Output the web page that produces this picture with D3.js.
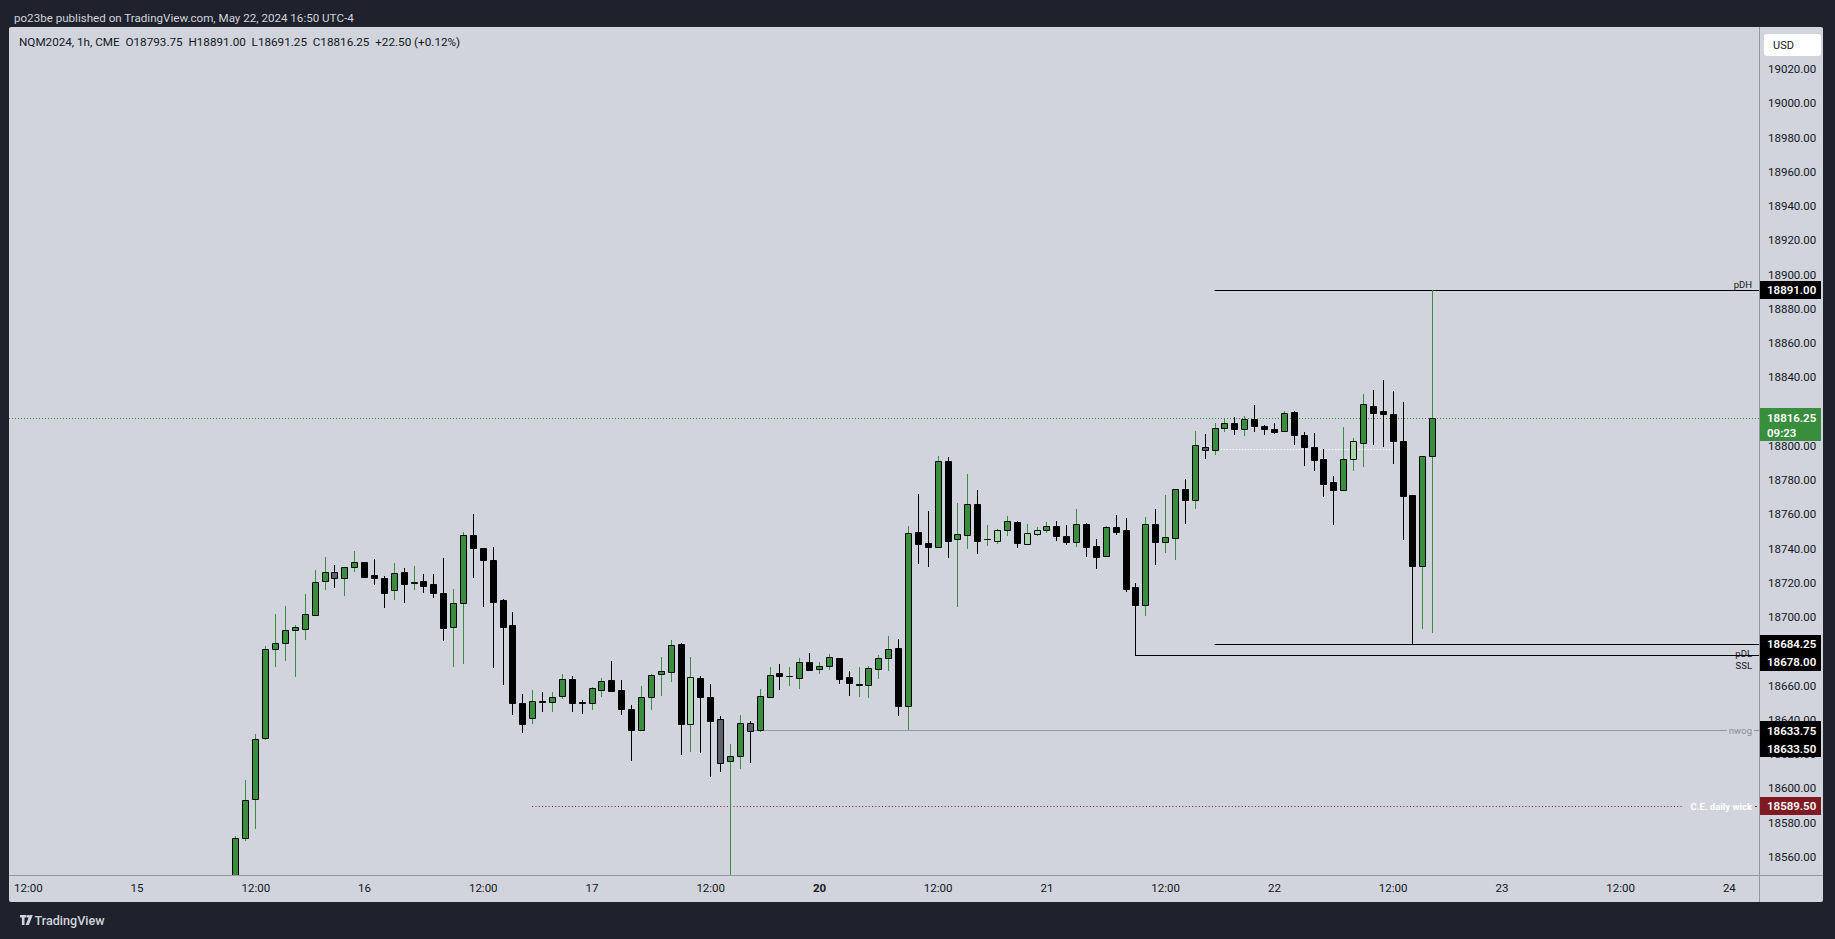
<!DOCTYPE html>
<html><head><meta charset="utf-8">
<script src="https://cdn.jsdelivr.net/npm/d3@7"></script>
<style>html,body{margin:0;padding:0;background:#1f222d;overflow:hidden}text{font-family:Roboto,"Liberation Sans",sans-serif}</style>
</head><body><svg id="c" width="1835" height="939"></svg>
<script>
// ---------- data ----------
const firstBar = 21; // bar index of first visible candle (index 0 = May 14 12:00)
const open = [18530,18571,18593.5,18629.5,18681,18684.5,18692.25,18692.75,18701.25,18720.75,
18726.5,18722.5,18729,18732,18724.25,18722.5,18715.5,18726,18720,18720.75,
18719,18713.75,18694.25,18708.25,18747.75,18740,18733,18710,18695,18650,
18641.25,18650.75,18650.5,18654,18663.5,18650.25,18650,18657.5,18663,18657.25,
18646.5,18634.25,18653.5,18666.5,18668,18684,18637.75,18664.25,18653.25,18640.5,
18616,18619,18638,18633.75,18653.5,18667,18665.25,18664.25,18673.5,18669.5,
18671.25,18676,18664.75,18660.5,18660.5,18669.75,18676.25,18681.75,18648.25,18749.5,
18743,18741,18791,18745.5,18748,18766,18745.25,18744.5,18751,18755.25,
18742.75,18748.5,18750.5,18753,18747.5,18744,18754,18741.25,18735.75,18752.5,
18750.5,18717.75,18707,18754,18744,18746.25,18775,18768.5,18799.5,18797.75,
18810.5,18813,18810,18815.5,18811.25,18809.5,18808.75,18819.5,18806.25,18799,
18792,18778.75,18774.25,18792.5,18801.75,18823,18820,18818.25,18803,18771,
18729.5,18793.75];
const high = [18572,18604.75,18631.5,18683,18701.75,18706.5,18695.25,18713.5,18727.5,18735,
18730.25,18729,18738.5,18732.25,18733.75,18724,18731.5,18728.5,18729.75,18725,
18725,18734.5,18716.25,18749.5,18760,18740.25,18741,18710.5,18703,18655,
18657.25,18656.25,18656.25,18666.75,18665.5,18651.5,18659.25,18664.5,18674.25,18663.25,
18648.5,18659.75,18666.75,18676.5,18686.5,18684.5,18676.5,18665.5,18660.75,18642,
18626,18642.75,18639.25,18658,18670.75,18672.5,18670.75,18676,18679,18673.75,
18678.5,18676.25,18668.5,18670.5,18671.5,18677.75,18689,18687,18753,18771.75,
18762,18794,18793.25,18766.5,18783.5,18774,18753.75,18751.5,18759,18756,
18754.25,18752.5,18755.5,18756,18753.75,18763,18754.75,18745.5,18753,18759.5,
18757.75,18719.75,18758.25,18763,18771.25,18775,18780.5,18808.5,18806.75,18813.25,
18815.5,18816.75,18817.5,18823.75,18812,18813.25,18820.25,18820.25,18807.75,18807.5,
18798,18782.25,18811,18804.25,18830.25,18832.5,18838.5,18832,18825.5,18771,
18794,18891];
const low = [18520,18569.75,18577,18629,18671.5,18675,18665.75,18687.25,18701.25,18716.5,
18717.75,18712.75,18726.75,18723.25,18719,18706,18710.5,18709,18716.5,18714.5,
18711.75,18686.25,18671.5,18673,18723.5,18706.5,18670.5,18661,18643.5,18633,
18638.25,18645.25,18645.25,18652.5,18645,18644,18646.25,18654,18656.75,18643.25,
18616.5,18634.25,18646.25,18654.5,18662.5,18620,18621.75,18621,18607,18610,
18540,18612,18615,18633.5,18653,18658,18660,18658.75,18668.75,18667.5,
18669.75,18661.5,18654.5,18654,18653.5,18664.5,18668.75,18643,18634.5,18731.75,
18729.5,18741,18735.25,18706.5,18740.25,18737.5,18742.25,18743.25,18748,18741,
18742.75,18748,18749.75,18745,18742.75,18741.5,18735.75,18728.75,18735.75,18748.5,
18715,18678,18701.25,18731,18738,18734,18755,18763.75,18792.75,18795.25,
18808.75,18807,18806.25,18808.5,18807,18807.5,18808.75,18801.25,18788.75,18785.75,
18770.75,18754.5,18774.25,18786,18788.25,18801.25,18800,18790,18745.75,18684.25,
18693.75,18691.25];
const close = [18570.75,18593,18629,18681,18684.5,18692.25,18694,18702,18720.25,18726.5,
18722.5,18729,18732,18723.5,18723,18714.25,18725.5,18719.5,18720.25,18718.25,
18714.25,18693.75,18708,18747.75,18740,18733,18709,18694.25,18650,18637.75,
18650.75,18650.5,18653.5,18663.5,18650,18649.5,18658.25,18662.5,18656.75,18646.25,
18634,18653.5,18666,18668.25,18683.5,18637.75,18664.75,18653.5,18639.5,18614.5,
18619,18638,18633.5,18653.75,18666,18665.75,18665.5,18673.5,18669.25,18671.25,
18676.5,18664,18661.25,18660.75,18670,18675.75,18681,18648.25,18749,18742.75,
18741,18791,18744.5,18748.25,18766,18744.5,18745.5,18751,18755.75,18743.25,
18748.75,18750.5,18753,18747.5,18744,18754,18741,18735.25,18752.25,18749.75,
18716.25,18707,18754,18744,18746.5,18775,18768.5,18800.25,18797.75,18810.25,
18813,18810,18815.5,18811.75,18809.5,18808.25,18819,18806,18799.5,18791.75,
18777.75,18774.25,18792,18802.5,18824.25,18819.25,18818.75,18803,18770.75,18729.5,
18793.75,18816.25];
// u = up, d = down, l = light-green highlight, g = grey highlight
const barState = ["u","u","u","u","u","u","u","u","u","u",
"g","u","u","d","d","d","u","d","u","d",
"d","d","u","u","d","d","d","d","d","d",
"u","d","u","u","d","d","u","u","d","d",
"d","u","u","u","u","d","l","d","d","g",
"u","u","g","u","u","d","u","u","d","u",
"u","d","d","u","u","u","u","d","u","d",
"d","u","d","u","u","d","u","l","u","d",
"l","l","u","d","d","u","d","d","u","d",
"d","d","u","d","u","u","d","u","g","u",
"u","d","u","d","d","d","u","d","d","d",
"d","d","u","l","u","d","d","d","d","d",
"u","u"];
const timeTickIndex = [0,11,23,34,46,57,69,80,92,103,115,126,138,149,161,172];
const timeTickLabel = ["12:00","15","12:00","16","12:00","17","12:00","20","12:00","21","12:00","22","12:00","23","12:00","24"];
const boldTimeLabels = ["20"];
const priceTicks = d3.range(18560, 19021, 20);
const levelNames = ["pDH","pDL","SSL"];
const levelPrices = [18891, 18684.25, 18678];
const levelStartBar = [120,120,112];
const nwogPrice = 18633.75, nwogPrice2 = 18633.5, nwogStartBar = 73;
const cePrice = 18589.5, ceStartBar = 51;
const refLevelPrice = 18798, refLevelBars = [120,138];
const lastPrice = 18816.25, countdown = "09:23";
const headerText = "po23be published on TradingView.com, May 22, 2024 16:50 UTC-4";
const legendText = "NQM2024, 1h, CME  O18793.75  H18891.00  L18691.25  C18816.25  +22.50 (+0.12%)";

// ---------- layout ----------
const W=1835,H=939, L=9, T=27, R=1823, B=902, AX=1759, AY=875;
const svg = d3.select("#c");
const x = d3.scaleLinear().domain([0,175]).range([27.8, 27.8+175*9.89]);
const y = d3.scaleLinear().domain([18549.3, 19044.5]).range([AY, T]);
const GREEN="#388e3c", LIGHT="#a5d6a7", GREY="#5d606b", TXT="#131722";

svg.append("rect").attr("width",W).attr("height",H).attr("fill","#1f222d");
svg.append("rect").attr("x",L).attr("y",T).attr("width",R-L).attr("height",B-T).attr("rx",2).attr("fill","#d1d4dc");

svg.append("defs").append("clipPath").attr("id","pane").append("rect")
  .attr("x",L).attr("y",T).attr("width",AX-L).attr("height",AY-T);
const pane = svg.append("g").attr("clip-path","url(#pane)");

// header / legend
svg.append("text").attr("x",14).attr("y",22).attr("fill","#d1d4dc").attr("font-size",11.6).text(headerText);
svg.append("text").attr("x",19).attr("y",46).attr("fill",TXT).attr("font-size",11.7).style("white-space","pre").text(legendText);

// current price dotted line
pane.append("line").attr("x1",L).attr("x2",AX).attr("y1",Math.round(y(lastPrice))+0.5).attr("y2",Math.round(y(lastPrice))+0.5)
  .attr("stroke",GREEN).attr("stroke-dasharray","1,2");
// white dotted
pane.append("line").attr("x1",x(refLevelBars[0])).attr("x2",x(refLevelBars[1])).attr("y1",Math.round(y(refLevelPrice))+0.5).attr("y2",Math.round(y(refLevelPrice))+0.5)
  .attr("stroke","#ffffff").attr("stroke-dasharray","1.5,1.5");

// nwog
const ny = Math.round(y(nwogPrice))+0.5;
pane.append("line").attr("x1",x(nwogStartBar)).attr("x2",1727).attr("y1",ny).attr("y2",ny).attr("stroke","#9598a1").attr("stroke-width",1.2);
pane.append("line").attr("x1",1754).attr("x2",AX).attr("y1",ny).attr("y2",ny).attr("stroke","#9598a1").attr("stroke-width",1.2);
pane.append("text").attr("x",1752).attr("y",ny+3.5).attr("text-anchor","end").attr("font-size",9.5).attr("fill","#8a8d96").text("nwog");
// C.E.
const cy = Math.round(y(cePrice))+0.5;
pane.append("line").attr("x1",x(ceStartBar)).attr("x2",1683).attr("y1",cy).attr("y2",cy).attr("stroke","#801922").attr("stroke-dasharray","1,2.3");
pane.append("line").attr("x1",1755).attr("x2",1757).attr("y1",cy).attr("y2",cy).attr("stroke","#801922");
pane.append("text").attr("x",1752).attr("y",cy+3.5).attr("text-anchor","end").attr("font-size",9.5).attr("font-weight",700).attr("fill","#ffffff").text("C.E. daily wick");

// pDH / pDL / SSL
const labDy = [-3, 12, 13.5];
levelNames.forEach((n,k)=>{
  const ly = Math.round(y(levelPrices[k]))+0.5;
  pane.append("line").attr("x1",x(levelStartBar[k])).attr("x2",AX).attr("y1",ly).attr("y2",ly).attr("stroke","#000").attr("stroke-width",1.2);
  pane.append("text").attr("x",1752).attr("y",ly+labDy[k]).attr("text-anchor","end").attr("font-size",9.5).attr("fill",TXT).text(n);
});

// candles
const bars = open.map((o,k)=>({i:firstBar+k,o,h:high[k],l:low[k],c:close[k],s:barState[k]}));
const fillC = {u:GREEN,d:"#000",l:LIGHT,g:GREY};
const wickC = {u:GREEN,d:"#000",l:GREEN,g:"#000"};
const cg = pane.append("g");
bars.forEach(b=>{
  const px = Math.round(x(b.i));
  cg.append("line").attr("x1",px+0.5).attr("x2",px+0.5).attr("y1",Math.round(y(b.h))).attr("y2",Math.round(y(b.l))+1)
    .attr("stroke",wickC[b.s]).attr("stroke-width",1);
  const yt = Math.round(y(Math.max(b.o,b.c)))+0.5, yb = Math.round(y(Math.min(b.o,b.c)))+0.5;
  cg.append("path").attr("d",`M${px-2.5},${yt}H${px+3.5}V${yb}H${px-2.5}Z`)
    .attr("fill",fillC[b.s]).attr("stroke","#000").attr("stroke-width",1);
});

// axes frame
svg.append("line").attr("x1",AX+0.5).attr("x2",AX+0.5).attr("y1",T).attr("y2",B).attr("stroke","#9598a1");
svg.append("line").attr("x1",L).attr("x2",R).attr("y1",AY+0.5).attr("y2",AY+0.5).attr("stroke","#9598a1");

// price markers (positions resolved first so fully covered tick labels can be skipped)
const markers = [
  {p:levelPrices[0], bg:"#000"},
  {p:levelPrices[1], bg:"#000"},
  {p:levelPrices[2], bg:"#000"},
  {p:nwogPrice, bg:"#000"},
  {p:nwogPrice2, bg:"#000"},
  {p:cePrice, bg:"#801922"}
].map(m=>({...m, yy:y(m.p)})).sort((a,b)=>a.yy-b.yy);
for(let k=1;k<markers.length;k++){ if(markers[k].yy<markers[k-1].yy+18) markers[k].yy=markers[k-1].yy+18; }
const lpY = y(lastPrice);
const boxes = markers.map(m=>[Math.round(m.yy-9), Math.round(m.yy-9)+18]).concat([[Math.round(lpY-10), Math.round(lpY-10)+33]]);
const covered = v => { const ty=y(v); for(let r=Math.floor(ty-4); r<=Math.ceil(ty+4); r++){ if(!boxes.some(b=>r>=b[0]&&r<=b[1])) return false; } return true; };
const visibleTicks = priceTicks.filter(v=>!covered(v));

// price axis
const pa = svg.append("g").attr("transform",`translate(${AX},0)`)
  .call(d3.axisRight(y).tickValues(visibleTicks).tickSize(0).tickPadding(9).tickFormat(d=>d.toFixed(2)));
pa.select(".domain").remove();
pa.selectAll("text").attr("font-size",11.5).attr("fill",TXT).attr("font-family","Roboto");

// time axis
const ta = svg.append("g").attr("transform",`translate(0,${AY})`)
  .call(d3.axisBottom(x).tickValues(timeTickIndex).tickSize(0).tickPadding(9).tickFormat((d,k)=>timeTickLabel[k]));
ta.select(".domain").remove();
ta.selectAll("text").attr("font-size",11.5).attr("fill",TXT).attr("font-family","Roboto")
  .attr("font-weight",(d,k)=>boldTimeLabels.includes(timeTickLabel[k])?700:400);

// USD box
svg.append("rect").attr("x",1764).attr("y",34).attr("width",57).attr("height",22).attr("rx",3).attr("fill","#ffffff");
svg.append("text").attr("x",1773).attr("y",49).attr("font-size",11).attr("fill",TXT).text("USD");

markers.forEach(m=>{
  svg.append("rect").attr("x",AX+1).attr("y",Math.round(m.yy-9)).attr("width",61).attr("height",18).attr("fill",m.bg);
  svg.append("text").attr("x",1767).attr("y",m.yy+4.2).attr("font-size",11.5).attr("font-weight",600).attr("fill","#fff").text(m.p.toFixed(2));
});
svg.append("rect").attr("x",AX+1).attr("y",Math.round(lpY-10)).attr("width",61).attr("height",33).attr("fill",GREEN);
svg.append("text").attr("x",1767).attr("y",lpY+4.2).attr("font-size",11.5).attr("font-weight",600).attr("fill","#fff").text(lastPrice.toFixed(2));
svg.append("text").attr("x",1767).attr("y",lpY+19).attr("font-size",11.5).attr("font-weight",600).attr("fill","#fff").text(countdown);

// footer logo
const lg = svg.append("g").attr("fill","#d1d4dc");
lg.append("path").attr("d","M20,915h6.5v2.6h-2v7.4h-2.6v-7.4h-1.9z");
lg.append("circle").attr("cx",28.2).attr("cy",916.4).attr("r",1.4);
lg.append("path").attr("d","M29.6,915h3.2l-4,10h-3.2z");
svg.append("text").attr("x",34.5).attr("y",925).attr("font-size",12.6).attr("font-weight",500).attr("fill","#d1d4dc").text("TradingView");
</script></body></html>
